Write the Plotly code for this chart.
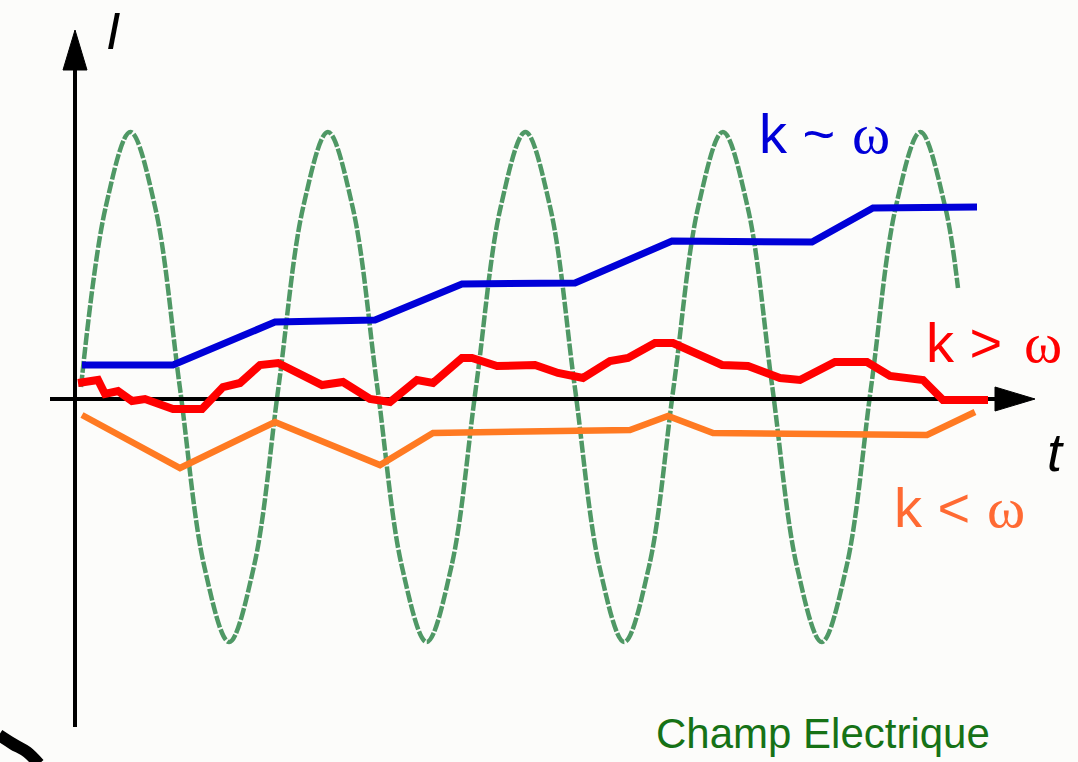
import plotly.graph_objects as go

# ---- data (t in axis units, I in axis units; origin at the axes crossing) ----
# Champ Electrique: green dotted sine, read at every 1/8 period
field_t = [0.06, 0.307, 0.554, 0.801, 1.048, 1.294, 1.541, 1.788,
           2.035, 2.282, 2.529, 2.776, 3.023, 3.270, 3.517, 3.763,
           4.010, 4.257, 4.504, 4.751, 4.998, 5.245, 5.492, 5.739,
           5.986, 6.232, 6.479, 6.726, 6.973, 7.220, 7.467, 7.714,
           7.961, 8.208, 8.455, 8.702, 8.83]
field_I = [0.12, 1.92, 2.67, 1.92, 0.12, -1.68, -2.43, -1.68,
           0.12, 1.92, 2.67, 1.92, 0.12, -1.68, -2.43, -1.68,
           0.12, 1.92, 2.67, 1.92, 0.12, -1.68, -2.43, -1.68,
           0.12, 1.92, 2.67, 1.92, 0.12, -1.68, -2.43, -1.68,
           0.12, 1.92, 2.67, 1.92, 1.11]

# k ~ omega (blue)
blue_t = [0.07, 0.98, 2.00, 3.00, 3.87, 5.00, 5.97, 7.37, 7.98, 9.02]
blue_I = [0.34, 0.34, 0.77, 0.79, 1.15, 1.16, 1.58, 1.57, 1.91, 1.92]

# k > omega (red)
red_t = [0.03, 0.23, 0.30, 0.43, 0.57, 0.70, 0.98, 1.27, 1.48, 1.65,
         1.85, 2.03, 2.47, 2.68, 2.95, 3.15, 3.42, 3.58, 3.87, 3.97,
         4.22, 4.60, 4.83, 5.08, 5.35, 5.53, 5.80, 5.98, 6.47, 6.73,
         7.05, 7.25, 7.60, 7.92, 8.15, 8.48, 8.68, 9.13]
red_I = [0.16, 0.19, 0.05, 0.08, -0.02, 0.00, -0.10, -0.10, 0.12, 0.16,
         0.34, 0.36, 0.14, 0.17, 0.00, -0.03, 0.19, 0.16, 0.41, 0.41,
         0.33, 0.34, 0.26, 0.21, 0.38, 0.41, 0.56, 0.56, 0.34, 0.33,
         0.21, 0.19, 0.37, 0.37, 0.23, 0.19, -0.01, -0.01]

# k < omega (orange)
orange_t = [0.07, 1.05, 2.00, 3.05, 3.58, 5.55, 5.93, 6.38, 8.52, 9.00]
orange_I = [-0.16, -0.69, -0.23, -0.66, -0.34, -0.31, -0.17, -0.34, -0.36, -0.13]

# axes geometry (axis units)
yaxis_line_t = [0.0, 0.0]
yaxis_line_I = [-3.28, 3.29]
yarrow_t = [-0.12, 0.12, 0.0, -0.12]
yarrow_I = [3.29, 3.29, 3.69, 3.29]
xaxis_line_t = [-0.25, 9.2]
xaxis_line_I = [0.0, 0.0]
xarrow_t = [9.2, 9.2, 9.6, 9.2]
xarrow_I = [0.12, -0.12, 0.0, 0.12]

# corner artifact (black stroke, bottom-left)
corner_t = [-0.76, -0.62, -0.48, -0.36]
corner_I = [-3.36, -3.45, -3.53, -3.65]

BG = "#fcfcfa"
fig = go.Figure()

fig.add_trace(go.Scatter(x=field_t, y=field_I, mode="lines",
                         line=dict(color="#4f9865", width=4.5, dash="12px,2px", shape="spline", smoothing=1.0),
                         hoverinfo="skip"))
fig.add_trace(go.Scatter(x=xaxis_line_t, y=xaxis_line_I, mode="lines",
                         line=dict(color="black", width=4), hoverinfo="skip"))
fig.add_trace(go.Scatter(x=yaxis_line_t, y=yaxis_line_I, mode="lines",
                         line=dict(color="black", width=4), hoverinfo="skip"))
fig.add_trace(go.Scatter(x=xarrow_t, y=xarrow_I, mode="lines", fill="toself",
                         fillcolor="black", line=dict(color="black", width=1), hoverinfo="skip"))
fig.add_trace(go.Scatter(x=yarrow_t, y=yarrow_I, mode="lines", fill="toself",
                         fillcolor="black", line=dict(color="black", width=1), hoverinfo="skip"))
fig.add_trace(go.Scatter(x=orange_t, y=orange_I, mode="lines",
                         line=dict(color="#ff7a22", width=6.5), hoverinfo="skip"))
fig.add_trace(go.Scatter(x=red_t, y=red_I, mode="lines",
                         line=dict(color="#ff0000", width=8), hoverinfo="skip"))
fig.add_trace(go.Scatter(x=blue_t, y=blue_I, mode="lines",
                         line=dict(color="#0000d8", width=7), hoverinfo="skip"))
fig.add_trace(go.Scatter(x=corner_t, y=corner_I, mode="lines",
                         line=dict(color="black", width=12, shape="spline"), hoverinfo="skip"))

SANS = "Liberation Sans, Arial, sans-serif"
SERIF = "Liberation Serif, Times New Roman, serif"
annots = [
    dict(text="<i>I</i>", x=0.38, y=3.99, color="black", size=52, xanchor="center", yanchor="top", fam=SANS),
    dict(text="<i>t</i>", x=9.80, y=-0.53, color="black", size=54, xanchor="center", yanchor="middle", fam=SANS),
    dict(text="k ~", x=6.82, y=2.66, color="#0000d8", size=56, xanchor="left", yanchor="middle", fam=SANS),
    dict(text="ω", x=7.96, y=2.66, color="#0000d8", size=58, xanchor="center", yanchor="middle", fam=SERIF),
    dict(text="k >", x=8.49, y=0.57, color="#ff0000", size=56, xanchor="left", yanchor="middle", fam=SANS),
    dict(text="ω", x=9.68, y=0.57, color="#ff0000", size=58, xanchor="center", yanchor="middle", fam=SERIF),
    dict(text="k <", x=8.17, y=-1.08, color="#ff6a33", size=56, xanchor="left", yanchor="middle", fam=SANS),
    dict(text="ω", x=9.31, y=-1.08, color="#ff6a33", size=58, xanchor="center", yanchor="middle", fam=SERIF),
    dict(text="Champ Electrique", x=7.48, y=-3.34, color="#167216", size=42, xanchor="center", yanchor="middle", fam=SANS),
]
for a in annots:
    fig.add_annotation(text=a["text"], x=a["x"], y=a["y"], xref="x", yref="y",
                       showarrow=False, xanchor=a["xanchor"], yanchor=a["yanchor"],
                       font=dict(family=a["fam"], size=a["size"], color=a["color"]))

fig.update_layout(
    width=1078, height=762,
    margin=dict(l=0, r=0, t=0, b=0),
    paper_bgcolor=BG, plot_bgcolor=BG,
    showlegend=False,
    xaxis=dict(range=[-0.75, 10.03], visible=False, fixedrange=True),
    yaxis=dict(range=[-3.63, 3.99], visible=False, fixedrange=True),
)

post = ("document.body.style.margin='0';document.body.style.padding='0';"
        "document.body.style.overflow='hidden';document.body.style.background='%s';" % BG)
fig.write_html("out.html", post_script=post, config={"displayModeBar": False})
